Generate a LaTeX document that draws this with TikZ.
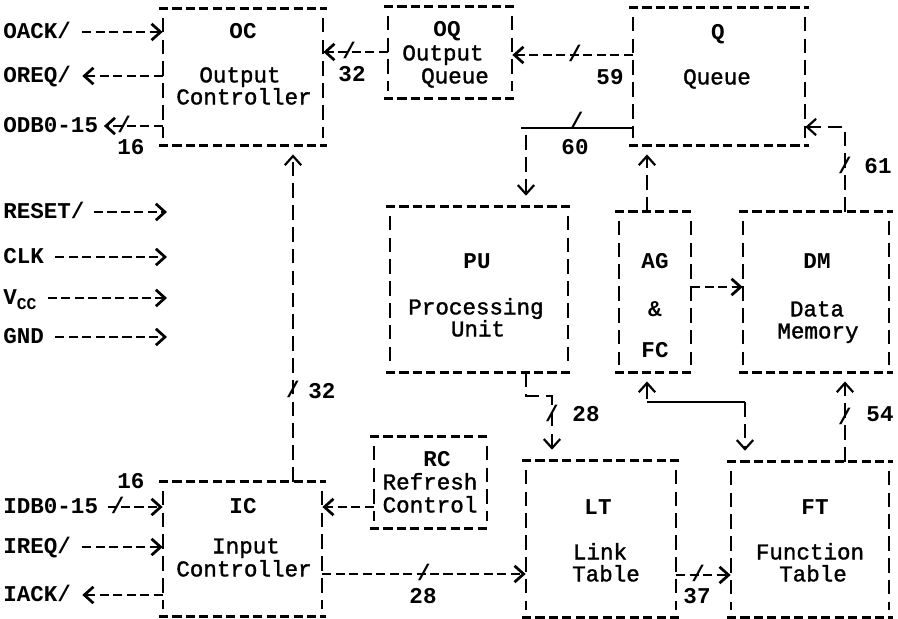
\documentclass[tikz,border=0pt]{standalone}
\usepackage{fontspec}
\setmainfont{Liberation Mono}
\newfontfamily\descfont{Liberation Mono}[FakeBold=1.5]
\usepackage{tikz}
\usetikzlibrary{arrows.meta, fit}

\newcommand\tw{\fontsize{12.4}{14}\selectfont}
\newcommand\frameblk[1]{%
  \draw[hdash] ([xshift=-2pt]#1.north west) -- ([xshift=2pt]#1.north east)
               ([xshift=-2pt]#1.south west) -- ([xshift=2pt]#1.south east);
  \draw[vdash] ([yshift=-5pt]#1.north west) -- ([yshift=4pt]#1.south west)
               ([yshift=-5pt]#1.north east) -- ([yshift=4pt]#1.south east);}

\tikzset{
  >={Straight Barb[length=5pt,width=9pt]},
  lbl/.style={font=\tw\bfseries, inner sep=0pt, text height=7pt, text depth=0pt},
  desc/.style={font=\tw\descfont, inner sep=0pt, text height=7pt, text depth=0pt},
  sl/.style={lbl},
  blk/.style={inner sep=0pt},
  hdash/.style={line width=1.5pt, dash pattern=on 5pt off 2.4pt},
  vdash/.style={line width=1.2pt, dash pattern=on 8pt off 4pt},
  bar/.style={line width=1.2pt}
}

\begin{document}
\begin{tikzpicture}[x=0.55pt, y=-0.55pt]
    \useasboundingbox (0,0) rectangle (898,619);

    % blocks
    \node[blk, fit={(163,9) (323,145)}] (oc) {};
    \node[blk, fit={(388,7) (512,98)}] (oq) {};
    \node[blk, fit={(633,8) (805,145)}] (q) {};
    \node[blk, fit={(390,207) (568,372)}] (pu) {};
    \node[blk, fit={(619,212) (691,372)}] (ag) {};
    \node[blk, fit={(743,212) (889,372)}] (dm) {};
    \node[blk, fit={(374,437) (487,528)}] (rc) {};
    \node[blk, fit={(163,482) (322,616)}] (ic) {};
    \node[blk, fit={(526,461) (676,617)}] (lt) {};
    \node[blk, fit={(731,462) (889,617)}] (ft) {};
    \foreach \b in {oc,oq,q,pu,ag,dm,rc,ic,lt,ft} \frameblk{\b};

    % block texts
    \node[lbl] (oc-t) at (243,32) {OC};
    \node[desc] (oc-d1) at (240,76) {Output};
    \node[desc] (oc-d2) at (244,98) {Controller};
    \node[lbl] (oq-t) at (447,30) {OQ};
    \node[desc] (oq-d1) at (443,54) {Output};
    \node[desc] (oq-d2) at (455,77) {Queue};
    \node[lbl] (q-t) at (718,33) {Q};
    \node[desc] (q-d) at (717,78) {Queue};
    \node[lbl] (pu-t) at (477,262) {PU};
    \node[desc] (pu-d1) at (476,308) {Processing};
    \node[desc] (pu-d2) at (478,330) {Unit};
    \node[lbl] (ag-t) at (655,262) {AG};
    \node[lbl] (ag-a) at (655,310) {\&};
    \node[lbl] (ag-f) at (655,351) {FC};
    \node[lbl] (dm-t) at (817,262) {DM};
    \node[desc] (dm-d1) at (817,310) {Data};
    \node[desc] (dm-d2) at (818,332) {Memory};
    \node[lbl] (rc-t) at (437,460) {RC};
    \node[desc] (rc-d1) at (430,483) {Refresh};
    \node[desc] (rc-d2) at (430,506) {Control};
    \node[lbl] (ic-t) at (243,507) {IC};
    \node[desc] (ic-d1) at (246,547) {Input};
    \node[desc] (ic-d2) at (244,570) {Controller};
    \node[lbl] (lt-t) at (598,508) {LT};
    \node[desc] (lt-d1) at (600,553) {Link};
    \node[desc] (lt-d2) at (606,575) {Table};
    \node[lbl] (ft-t) at (815,508) {FT};
    \node[desc] (ft-d1) at (810,553) {Function};
    \node[desc] (ft-d2) at (813,575) {Table};

    % pins on the left
    \coordinate (pins) at (167,0);
    \node[lbl, anchor=west] (oack) at (3,32) {OACK/};
    \node[lbl, anchor=west] (oreq) at (3,76) {OREQ/};
    \node[lbl, anchor=west] (odb) at (3,126) {ODB0-15};
    \node[lbl, anchor=west] (rst) at (3,212) {RESET/};
    \node[lbl, anchor=west] (clk) at (3,257) {CLK};
    \node[lbl, anchor=west] (vcc) at (3,298) {V\raisebox{-3pt}{\fontsize{9}{10}\selectfont CC}};
    \node[lbl, anchor=west] (gnd) at (3,337) {GND};
    \node[lbl, anchor=west] (idb) at (3,507) {IDB0-15};
    \node[lbl, anchor=west] (ireq) at (3,547) {IREQ/};
    \node[lbl, anchor=west] (iack) at (3,595) {IACK/};

    \draw[hdash, ->, shorten <=6pt] (oack.east) -- (oack.east -| oc.west);
    \draw[hdash, ->, shorten >=6pt] (oc.west |- oreq) -- (oreq.east);
    \draw[hdash, ->, shorten >=3pt] (oc.west |- odb) -- node[sl, pos=.6] (s16a) {/} (odb.east);
    \node[lbl] (n16a) at (131,148) {16};
    \draw[hdash, ->, shorten <=5pt] (rst.east) -- (rst.east -| pins);
    \draw[hdash, ->, shorten <=6pt] (clk.east) -- (clk.east -| pins);
    \draw[hdash, ->, shorten <=6pt] (vcc.east) -- (vcc.east -| pins);
    \draw[hdash, ->, shorten <=6pt] (gnd.east) -- (gnd.east -| pins);
    \draw[hdash, ->, shorten <=5pt] (idb.east) -- node[sl, pos=.3] (s16b) {/} (idb.east -| ic.west);
    \node[lbl] (n16b) at (131,482) {16};
    \draw[hdash, ->, shorten <=6pt] (ireq.east) -- (ireq.east -| ic.west);
    \draw[hdash, ->, shorten >=6pt] (ic.west |- iack) -- (iack.east);

    % buses between blocks
    \coordinate (r52) at (0,52);
    \draw[hdash, ->] (oq.west |- r52) -- node[sl, pos=.6] (s32a) {/} (oc.east |- r52);
    \node[lbl] (n32a) at (352,75) {32};
    \coordinate (r55) at (0,55);
    \draw[hdash, ->] (q.west |- r55) -- node[sl, pos=.48] (s59) {/} (oq.east |- r55);
    \node[lbl] (n59) at (610,78) {59};

    \coordinate (qpu) at (526,128);
    \draw[bar] (q.west |- qpu) -- node[sl, pos=.5, yshift=3pt] (s60) {/} ([xshift=-3pt]qpu);
    \node[lbl] (n60) at (575,148) {60};
    \draw[vdash, ->, shorten >=6pt] ([yshift=-4pt]qpu) -- (qpu |- pu.north);

    \coordinate (agq) at (647,0);
    \draw[vdash, ->, shorten >=5pt] (ag.north -| agq) -- (q.south -| agq);

    \coordinate (dmq) at (845,127);
    \draw[vdash, ->] (dm.north -| dmq) -- node[sl, pos=.53] (s61) {/} (dmq) -- (q.east |- dmq);
    \node[lbl] (n61) at (878,167) {61};

    \coordinate (icoc) at (293,0);
    \draw[vdash, ->, shorten >=5pt] (ic.north -| icoc) -- node[sl, pos=.27] (s32b) {/} (oc.south -| icoc);
    \node[lbl] (n32b) at (322,392) {32};

    \draw[hdash, ->] (ag.east |- 0,287) -- (dm.west |- 0,287);

    \coordinate (pul1) at (526,396);
    \coordinate (pul2) at (552,396);
    \draw[vdash, ->, shorten >=6pt] (pu.south -| pul1) -- (pul1) -- (pul2) -- node[sl, pos=.3] (s28a) {/} (pul2 |- lt.north);
    \node[lbl] (n28a) at (586,415) {28};

    \coordinate (agft1) at (647,402);
    \coordinate (agft2) at (745,402);
    \draw[vdash, <-, shorten <=5pt] (ag.south -| agft1) -- (agft1);
    \draw[bar] (agft1) -- (agft2);
    \draw[vdash, ->, shorten >=6pt] (agft2) -- (agft2 |- ft.north);

    \coordinate (ftdm) at (845,0);
    \draw[vdash, ->, shorten >=5pt] (ft.north -| ftdm) -- node[sl, pos=.49] (s54) {/} (dm.south -| ftdm);
    \node[lbl] (n54) at (880,415) {54};

    \coordinate (rcic) at (0,507);
    \draw[hdash, ->] (rc.west |- rcic) -- (ic.east |- rcic);
    \coordinate (iclt) at (0,574);
    \draw[hdash, ->] (ic.east |- iclt) -- node[sl, pos=.5] (s28b) {/} (lt.west |- iclt);
    \node[lbl] (n28b) at (423,597) {28};
    \coordinate (ltft) at (0,575);
    \draw[hdash, ->] (lt.east |- ltft) -- node[sl, pos=.4] (s37) {/} (ft.west |- ltft);
    \node[lbl] (n37) at (697,597) {37};

\end{tikzpicture}
\end{document}
